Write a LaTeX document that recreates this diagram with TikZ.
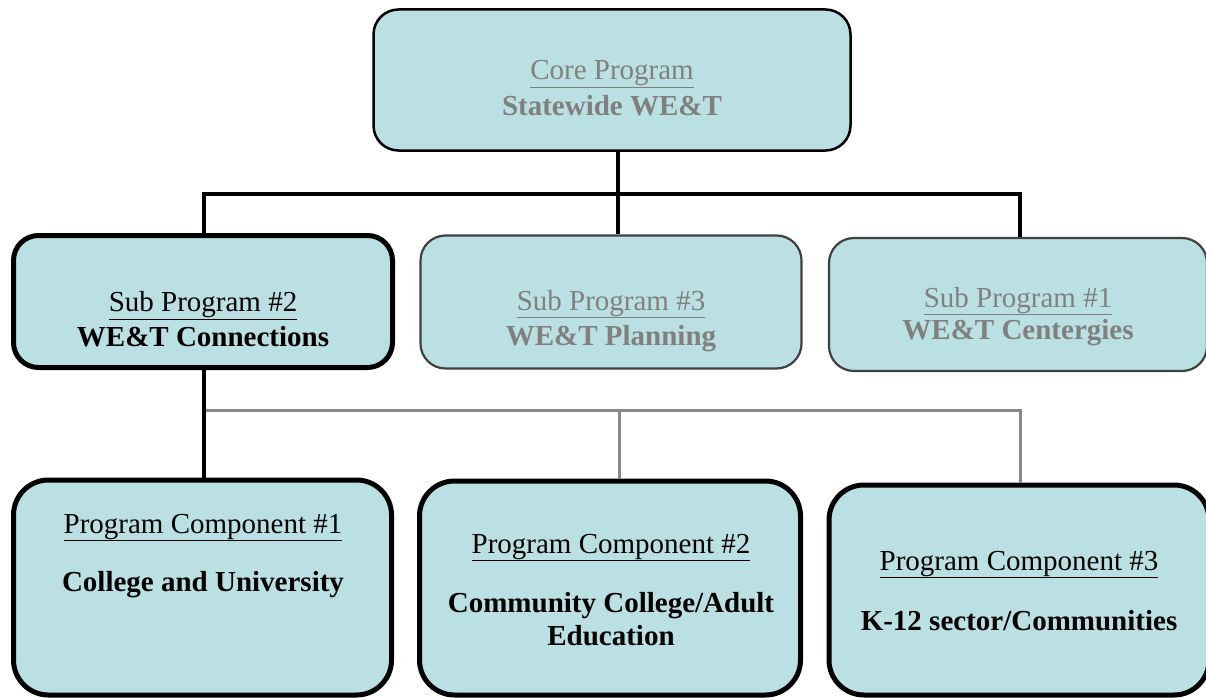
\documentclass[tikz,border=0pt]{standalone}
\usepackage{fontspec}
\setmainfont{Liberation Serif}
\definecolor{boxfill}{HTML}{BAE0E3}
\definecolor{txtgray}{HTML}{808080}
\definecolor{edgegray}{HTML}{404040}
\definecolor{linegray}{HTML}{888888}
\begin{document}
\begin{tikzpicture}[x=1pt,y=-1pt,
  box/.style={draw, fill=boxfill, rounded corners=25pt, inner sep=0pt},
  thinbox/.style={box, line width=2.2pt, draw=edgegray},
  corebox/.style={box, line width=2.5pt, draw=black},
  thickbox/.style={box, line width=5pt, draw=black},
  compbox/.style={box, line width=5pt, draw=black, rounded corners=35pt},
  txt/.style={anchor=base, inner sep=0pt, font=\fontsize{29}{35}\selectfont},
  blk/.style={line width=3.5pt, draw=black},
  gry/.style={line width=3pt, draw=linegray}
]
\useasboundingbox (0,0) rectangle (1206,698);
% boxes
\node[corebox, minimum width=477pt, minimum height=141pt] (core) at (612,80) {};
\node[thickbox, minimum width=379pt, minimum height=132pt] (sub2) at (203,301.5) {};
\node[thinbox, minimum width=381pt, minimum height=133pt] (sub3) at (611,302) {};
\node[thinbox, minimum width=378pt, minimum height=133pt] (sub1) at (1018,304.5) {};
\node[compbox, minimum width=378pt, minimum height=215pt] (comp1) at (202.5,587.5) {};
\node[compbox, minimum width=381pt, minimum height=214pt] (comp2) at (610,588) {};
\node[compbox, minimum width=380pt, minimum height=210pt] (comp3) at (1019,590) {};
% connector junctions
\coordinate (jl) at (204,194);
\coordinate (jm) at (618,194);
\coordinate (jr) at (1020,194);
\coordinate (gl) at (204,410);
\coordinate (gm) at (619,410);
\coordinate (gr) at (1020,410);
% top connectors
\draw[blk] (core.south -| jm) -- (sub3.north -| jm);
\draw[blk] (sub2.north -| jl) -- (jl) -- (jr) -- (sub1.north -| jr);
% bottom connectors
\draw[gry] (gl) -- (gr) -- (comp3.north -| gr);
\draw[gry] (gm) -- (comp2.north -| gm);
\draw[blk] (sub2.south -| gl) -- (comp1.north -| gl);
% texts
\node[txt, text=txtgray] (coreA) at (612,80) {\underline{Core Program}};
\node[txt, text=txtgray] (coreB) at (612,116) {\textbf{Statewide WE\&T}};
\node[txt] (sub2A) at (203,311.5) {\underline{Sub Program \#2}};
\node[txt] (sub2B) at (203,346.5) {\textbf{WE\&T Connections}};
\node[txt, text=txtgray] (sub3A) at (611,310) {\underline{Sub Program \#3}};
\node[txt, text=txtgray] (sub3B) at (611,345) {\textbf{WE\&T Planning}};
\node[txt, text=txtgray] (sub1A) at (1018,307) {\underline{Sub Program \#1}};
\node[txt, text=txtgray] (sub1B) at (1018,339) {\textbf{WE\&T Centergies}};
\node[txt] (comp1A) at (203,533) {\underline{Program Component \#1}};
\node[txt] (comp1B) at (203,591.5) {\textbf{College and University}};
\node[txt] (comp2A) at (611,553) {\underline{Program Component \#2}};
\node[txt] (comp2B) at (611,612) {\textbf{Community College/Adult}};
\node[txt] (comp2C) at (611,645) {\textbf{Education}};
\node[txt] (comp3A) at (1019,570) {\underline{Program Component \#3}};
\node[txt] (comp3B) at (1019,630) {\textbf{K-12 sector/Communities}};
\end{tikzpicture}
\end{document}
